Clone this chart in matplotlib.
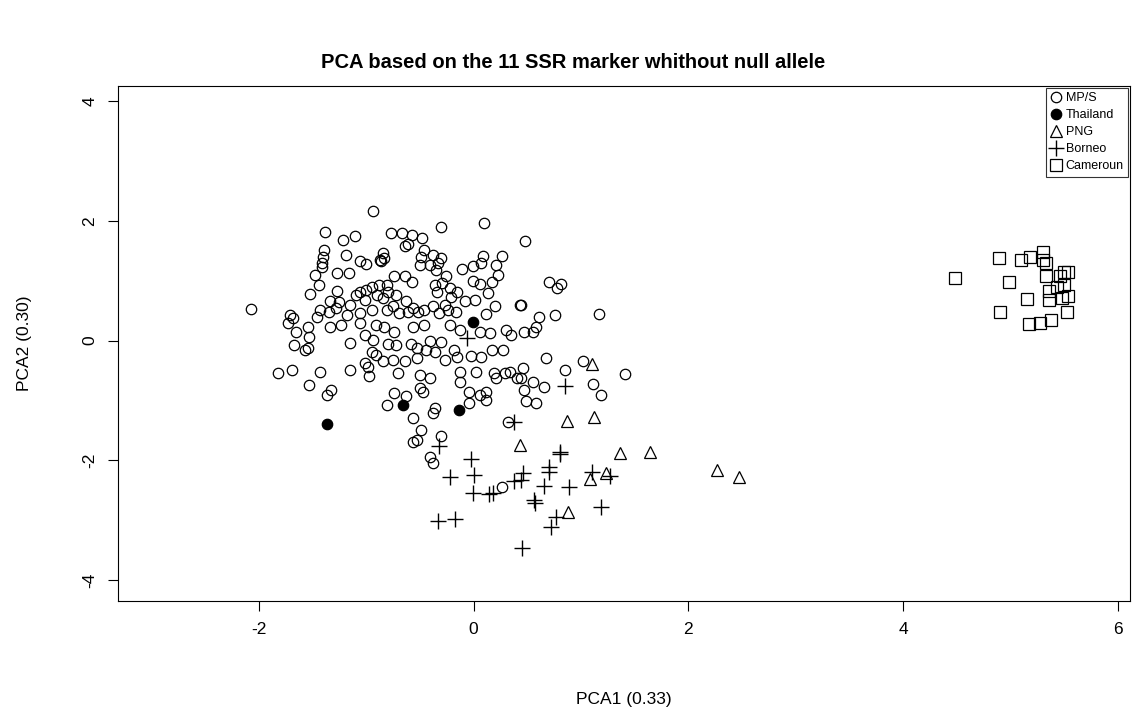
import numpy as np
import matplotlib
matplotlib.use('Agg')
import matplotlib.pyplot as plt

plt.rcParams['font.family'] = ['Liberation Sans', 'DejaVu Sans']
plt.rcParams['axes.unicode_minus'] = False

# MP/S (open circles)
mps_x = [-0.94, -1.38, -1.22, -1.10, -1.39, -1.40, -1.19, -1.41, -1.06, -1.00, -1.41, -1.27, -1.16,
         -1.48, -1.44, -1.52, -1.27, -2.07, -1.71, -1.68, -1.43, -1.34, -1.25, -1.15, -1.09, -1.06,
         -1.00, -0.95, -0.90, -1.01, -1.35, -1.28, -1.18, -1.06, -0.95, -1.46, -0.87, -0.88,
         -0.30, 0.10, -0.77, -0.67, -0.57, -0.48, -0.64, -0.61, -0.46, -0.84, -0.83, -0.86, -0.49,
         -0.38, -0.30, -0.50, -0.41, -0.33, -0.35, -0.26, -0.11, -0.01, 0.09, 0.07, 0.26, 0.21,
         0.23, 0.17, -0.01, 0.06, 0.13, 0.01, -0.08, 0.20, 0.12, 0.43, -0.74, -0.64, -0.57, -0.81,
         -0.36, -0.29, -0.22, -0.15, -0.34, -0.21, -0.80, -0.72, -0.84, -0.63, -0.75, -0.56, -0.46,
         -0.38, -0.27, -0.24, -0.16, -0.81, -0.69, -0.61, -0.52, -0.32,
         0.48, 0.70, 0.81, 0.78, 0.44, 0.61, 0.76, 1.17,
         -1.73, -1.54, -1.65, -1.53, -1.67, -1.54, -1.57, -1.34, -1.23, -1.15, -1.06, -1.01, -0.94,
         -0.95, -0.91, -1.01, -0.98, -0.97, -1.82, -1.69, -1.43, -1.53, -1.15, -1.36, -1.33, -0.91,
         -0.83, -0.74, -0.56, -0.46, -0.22, -0.13, 0.06, 0.15, 0.30, 0.35, -0.80, -0.72, -0.58,
         -0.53, -0.41, -0.30, -0.44, -0.36, -0.27, -0.18, -0.15, -0.02, 0.07, 0.17, 0.27, -0.84,
         -0.75, -0.64, -0.53, -0.70, -0.50, -0.41, -0.13, -0.13, 0.02, 0.19, 0.29, 0.34, 0.21,
         0.40, -0.50, -0.47, -0.04, 0.06, 0.12, 0.12, -0.74, -0.63, -0.81, -0.04, -0.36, -0.38,
         -0.56, -0.49, -0.53, -0.30, 0.32,
         0.47, 0.55, 0.58, 0.67, 0.46, 0.55, 0.66, 0.44, 0.47, 0.49, 0.58, 0.85, 1.02, 1.41, 1.11,
         1.19, -0.56, -0.41, -0.38, 0.26]
mps_y = [2.17, 1.81, 1.68, 1.75, 1.51, 1.40, 1.42, 1.29, 1.32, 1.28, 1.22, 1.13, 1.13,
         1.10, 0.93, 0.77, 0.83, 0.52, 0.43, 0.38, 0.51, 0.66, 0.65, 0.59, 0.76, 0.81,
         0.84, 0.90, 0.76, 0.68, 0.48, 0.54, 0.43, 0.46, 0.51, 0.40, 1.35, 0.93,
         1.89, 1.96, 1.79, 1.79, 1.76, 1.71, 1.57, 1.61, 1.51, 1.46, 1.37, 1.32, 1.40,
         1.43, 1.37, 1.26, 1.26, 1.29, 1.18, 1.08, 1.20, 1.24, 1.41, 1.29, 1.41, 1.26,
         1.09, 0.97, 1.00, 0.94, 0.79, 0.68, 0.66, 0.58, 0.44, 0.59, 1.08, 1.07, 0.97, 0.93,
         0.93, 0.96, 0.87, 0.81, 0.81, 0.73, 0.81, 0.76, 0.71, 0.66, 0.57, 0.54, 0.51,
         0.57, 0.59, 0.51, 0.48, 0.51, 0.46, 0.48, 0.48, 0.46,
         1.66, 0.97, 0.94, 0.87, 0.59, 0.39, 0.43, 0.45,
         0.29, 0.23, 0.15, 0.06, -0.08, -0.13, -0.16, 0.23, 0.26, -0.04, 0.29, 0.09, 0.01,
         -0.19, -0.24, -0.38, -0.44, -0.60, -0.54, -0.49, -0.53, -0.74, -0.49, -0.91, -0.83, 0.26,
         0.23, 0.15, 0.23, 0.26, 0.26, 0.17, 0.15, 0.12, 0.17, 0.09, -0.05, -0.08, -0.05,
         -0.13, 0.00, -0.02, -0.16, -0.19, -0.32, -0.16, -0.27, -0.26, -0.27, -0.16, -0.16, -0.35,
         -0.32, -0.35, -0.30, -0.55, -0.58, -0.63, -0.52, -0.69, -0.52, -0.55, -0.55, -0.52, -0.63,
         -0.63, -0.80, -0.86, -0.86, -0.91, -0.86, -1.00, -0.88, -0.92, -1.08, -1.05, -1.13, -1.21,
         -1.30, -1.49, -1.66, -1.60, -1.36,
         0.15, 0.15, 0.23, -0.30, -0.46, -0.69, -0.77, -0.63, -0.83, -1.01, -1.05, -0.50, -0.34, -0.56, -0.72,
         -0.91, -1.69, -1.94, -2.04, -2.44]

# Thailand (filled circles)
tha_x = [-1.36, -0.01, -0.66, -0.14]
tha_y = [-1.40, 0.31, -1.07, -1.16]

# PNG (triangles)
png_x = [2.27, 2.47, 1.10, 0.87, 1.12, 1.36, 1.64, 1.08, 1.23, 0.88, 0.43]
png_y = [-2.16, -2.28, -0.40, -1.34, -1.28, -1.88, -1.86, -2.32, -2.22, -2.87, -1.74]

# Borneo (crosses)
bor_x = [-0.32, -0.02, -0.22, 0.00, -0.01, 0.14, 0.18, -0.33, -0.17, 0.38, 0.45,
         0.80, 0.80, 0.70, 0.70, 0.46, 0.44, 0.66, 0.89, 1.10, 1.27, 0.56, 0.57, 0.77,
         0.72, 1.19, 0.85, -0.06, 0.38]
bor_y = [-1.76, -1.98, -2.28, -2.25, -2.55, -2.56, -2.55, -3.01, -2.98, -2.34, -3.46,
         -1.86, -1.90, -2.11, -2.19, -2.22, -2.33, -2.43, -2.44, -2.19, -2.26, -2.66, -2.72, -2.95,
         -3.11, -2.78, -0.76, 0.04, -1.36]

# Cameroun (squares)
cam_x = [4.48, 4.89, 4.98, 4.90, 5.10, 5.18, 5.30, 5.30, 5.33, 5.33, 5.46, 5.50, 5.15,
         5.36, 5.36, 5.43, 5.50, 5.48, 5.52, 5.17, 5.27, 5.38, 5.53, 5.53]
cam_y = [1.05, 1.37, 0.97, 0.48, 1.34, 1.39, 1.48, 1.34, 1.29, 1.08, 1.08, 1.15, 0.70,
         0.83, 0.67, 0.90, 0.93, 0.71, 0.48, 0.28, 0.29, 0.35, 1.14, 0.74]

fig = plt.figure(figsize=(11.47, 7.09), dpi=100)
ax = fig.add_axes([0.1029, 0.1523, 0.8822, 0.7264])

ax.plot(mps_x, mps_y, 'o', mfc='none', mec='black', mew=0.9, ms=7.5, ls='none', label='MP/S')
ax.plot(tha_x, tha_y, 'o', mfc='black', mec='black', mew=0.9, ms=7.5, ls='none', label='Thailand')
ax.plot(png_x, png_y, '^', mfc='none', mec='black', mew=0.9, ms=9, ls='none', label='PNG')
ax.plot(bor_x, bor_y, '+', color='black', mew=1.0, ms=12, ls='none', label='Borneo')
ax.plot(cam_x, cam_y, 's', mfc='none', mec='black', mew=0.9, ms=8.5, ls='none', label='Cameroun')

ax.set_xlim(-3.31, 6.11)
ax.set_ylim(-4.35, 4.25)
ax.set_xticks([-2, 0, 2, 4, 6])
ax.set_yticks([-4, -2, 0, 2, 4])
ax.tick_params(direction='out', length=7, width=0.8, labelsize=12.5, pad=8)
for lab in ax.get_yticklabels():
    lab.set_rotation(90)
    lab.set_va('center')
for sp in ax.spines.values():
    sp.set_linewidth(0.8)

ax.set_xlabel('PCA1 (0.33)', fontsize=12.5, labelpad=40)
ax.set_ylabel('PCA2 (0.30)', fontsize=12.5, labelpad=36)
fig.suptitle('PCA based on the 11 SSR marker whithout null allele', fontsize=14.5,
             fontweight='bold', y=0.925)

leg = ax.legend(loc='upper right', fontsize=9, frameon=True, fancybox=False, borderaxespad=0.15,
                handlelength=0.9, handletextpad=0.3, labelspacing=0.4, borderpad=0.35,
                markerscale=1.0)
leg.get_frame().set_edgecolor('black')
leg.get_frame().set_linewidth(0.8)

fig.savefig('out.png', dpi=100)
